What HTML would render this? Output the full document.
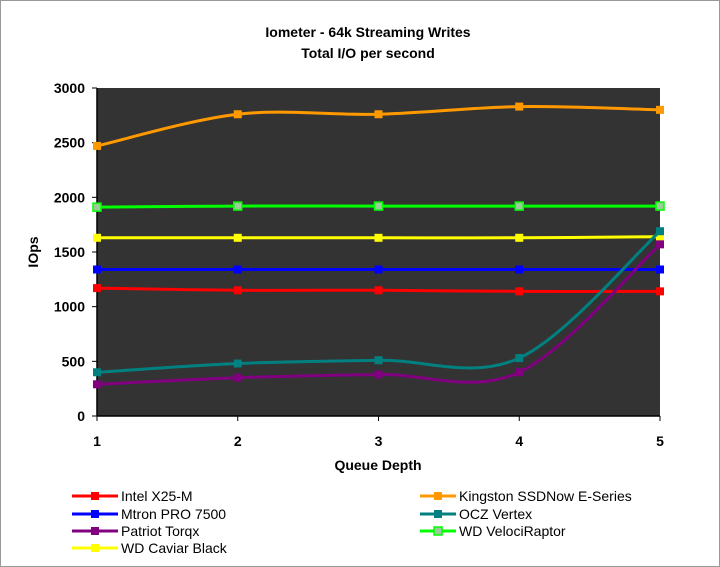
<!DOCTYPE html>
<html><head><meta charset="utf-8"><style>
body{margin:0;background:#fff;}
svg{display:block;font-family:"Liberation Sans",sans-serif;}
</style></head><body>
<svg id="chart" width="720" height="567">
<rect x="0.5" y="0.5" width="719" height="566" fill="#fff" stroke="#999"/>
<text x="368" y="37" text-anchor="middle" font-size="14" font-weight="bold">Iometer - 64k Streaming Writes</text>
<text x="368" y="58" text-anchor="middle" font-size="14" font-weight="bold">Total I/O per second</text>
<rect x="97" y="88" width="563" height="328" fill="#333333"/>
<g id="axes"></g>
<g id="series"></g>
<text x="378" y="470" text-anchor="middle" font-size="14" font-weight="bold">Queue Depth</text>
<text transform="translate(38,252) rotate(-90)" text-anchor="middle" font-size="14" font-weight="bold">IOps</text>
<g id="legend"></g>
</svg>
<script>
const categories=[1,2,3,4,5];
const yTicks=[0,500,1000,1500,2000,2500,3000];
const seriesNames=["Intel X25-M","Mtron PRO 7500","Patriot Torqx","WD Caviar Black","Kingston SSDNow E-Series","OCZ Vertex","WD VelociRaptor"];
const seriesColors=["#ff0000","#0000ff","#800080","#ffff00","#ff9900","#008080","#00ff00"];
const intel=[1170,1150,1150,1140,1140];
const mtron=[1340,1340,1340,1340,1340];
const patriot=[290,350,380,400,1570];
const caviar=[1630,1630,1630,1630,1640];
const kingston=[2470,2760,2760,2830,2800];
const ocz=[400,480,510,530,1690];
const raptor=[1910,1920,1920,1920,1920];
const allSeries=[intel,mtron,patriot,caviar,kingston,ocz,raptor];
const drawOrder=[4,6,3,1,0,5,2];
const X0=97,X1=660,Y0=416,Y1=88,YMAX=3000;
const sx=c=>X0+(c-1)/(categories.length-1)*(X1-X0);
const sy=v=>Y0-v/YMAX*(Y0-Y1);
const NS="http://www.w3.org/2000/svg";
function mk(t,a,p){const e=document.createElementNS(NS,t);for(const k in a)e.setAttribute(k,a[k]);p.appendChild(e);return e;}
const ax=document.getElementById('axes');
let l=mk('line',{x1:X0,y1:Y1,x2:X0,y2:Y0,stroke:'#000','stroke-width':1.5},ax);


l=mk('line',{x1:X0,y1:Y0,x2:X1,y2:Y0,stroke:'#000','stroke-width':1.5},ax);


yTicks.forEach(v=>{
 mk('line',{x1:X0-5,y1:sy(v),x2:X0,y2:sy(v),stroke:'#000'},ax);
 const t=mk('text',{x:X0-12,y:sy(v)+5,'text-anchor':'end','font-size':14,'font-weight':'bold'},ax);
 t.textContent=v;
 
 
});
categories.forEach(c=>{
 mk('line',{x1:sx(c),y1:Y0,x2:sx(c),y2:Y0+5,stroke:'#000'},ax);
 const t=mk('text',{x:sx(c),y:Y0+30,'text-anchor':'middle','font-size':14,'font-weight':'bold'},ax);
 t.textContent=c;
 
 
});
function smooth(pts){
 let d=`M${pts[0][0]},${pts[0][1]}`;
 for(let i=0;i<pts.length-1;i++){
  const p0=pts[Math.max(i-1,0)],p1=pts[i],p2=pts[i+1],p3=pts[Math.min(i+2,pts.length-1)];
  const k=1/6;
  d+=` C${p1[0]+(p2[0]-p0[0])*k},${p1[1]+(p2[1]-p0[1])*k} ${p2[0]-(p3[0]-p1[0])*k},${p2[1]-(p3[1]-p1[1])*k} ${p2[0]},${p2[1]}`;
 }
 return d;
}
const sg=document.getElementById('series');
drawOrder.forEach(i=>{
 const g=mk('g',{},sg);
 
 
 const pts=allSeries[i].map((v,j)=>[sx(categories[j]),sy(v)]);
 mk('path',{d:smooth(pts),fill:'none',stroke:seriesColors[i],'stroke-width':3},g);
 pts.forEach(p=>{
  const r=mk('rect',{x:p[0]-4,y:p[1]-4,width:8,height:8,fill:i==6?'#99cc99':seriesColors[i],stroke:seriesColors[i],'stroke-width':i==6?1.5:0},g);
  
  
 });
});
const lg=document.getElementById('legend');
const legPos=[[72,496],[72,514],[72,531],[72,548],[420,496],[420,514],[420,531]];
seriesNames.forEach((n,i)=>{
 const g=mk('g',{},lg);
 
 
 const [x,y]=legPos[i];
 const w=i<4?46:36;
 mk('line',{x1:x,y1:y,x2:x+w,y2:y,stroke:seriesColors[i],'stroke-width':3},g);
 mk('rect',{x:x+w/2-4,y:y-4,width:8,height:8,fill:i==6?'#99cc99':seriesColors[i],stroke:seriesColors[i],'stroke-width':i==6?1.5:0},g);
 const t=mk('text',{x:x+w+3,y:y+5,'font-size':14},g);
 t.textContent=n;
});
</script>
</body></html>
